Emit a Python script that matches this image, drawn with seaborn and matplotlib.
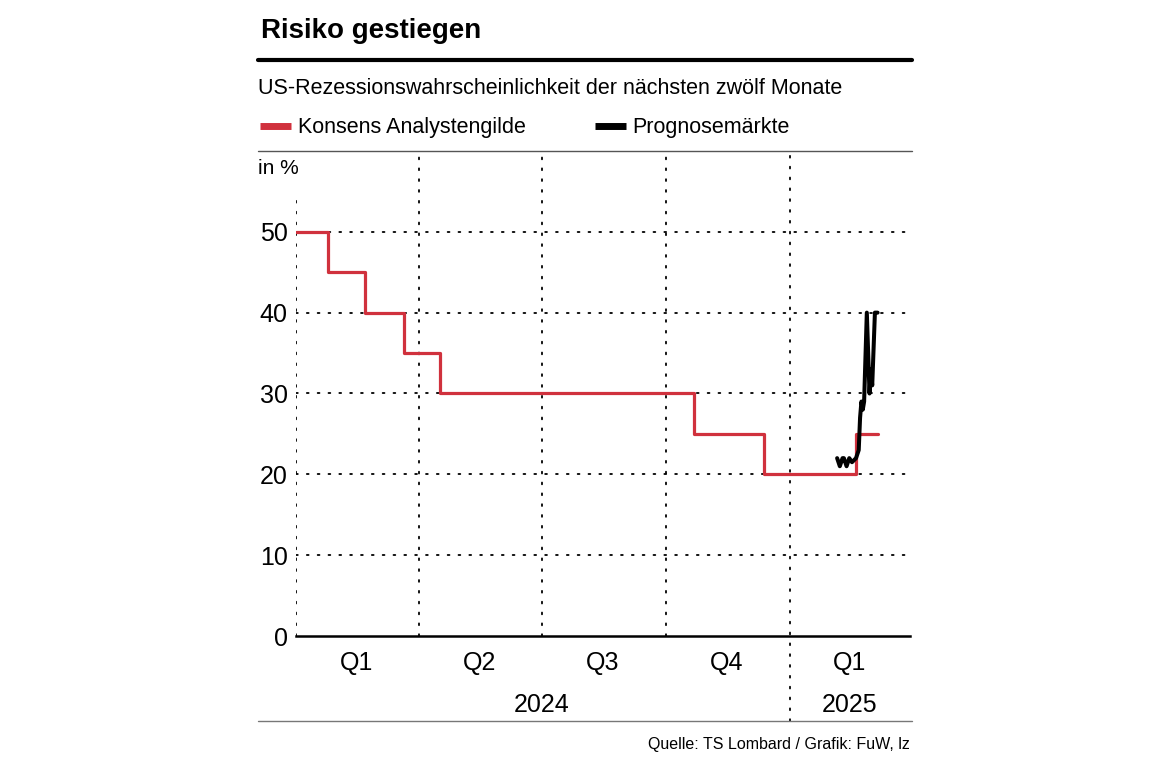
import pandas as pd
import numpy as np
import matplotlib
matplotlib.use('Agg')
import matplotlib.pyplot as plt
import matplotlib.transforms as mtransforms
from matplotlib.lines import Line2D
import seaborn as sns

# Daten
konsens_datum = ['2024-01-01', '2024-01-25', '2024-02-21', '2024-03-21', '2024-04-17',
                 '2024-10-22', '2024-12-13', '2025-02-19', '2025-03-07']
konsens_wert = [50, 45, 40, 35, 30, 25, 20, 25, 25]

markt_datum = ['2025-02-05', '2025-02-07', '2025-02-09', '2025-02-10', '2025-02-12',
               '2025-02-14', '2025-02-16', '2025-02-19', '2025-02-21', '2025-02-22',
               '2025-02-23', '2025-02-24', '2025-02-25', '2025-02-27', '2025-03-01',
               '2025-03-02', '2025-03-03', '2025-03-05', '2025-03-07']
markt_wert = [22, 21, 22, 22, 21, 22, 21.5, 22, 23, 27, 29, 28, 29, 40, 30, 33, 31, 40, 40]

quartal_grenzen = ['2024-01-01', '2024-04-01', '2024-07-01', '2024-10-01', '2025-01-01']
quartal_mitte = ['2024-02-15', '2024-05-16', '2024-08-15', '2024-11-15', '2025-02-14']
quartal_labels = ['Q1', 'Q2', 'Q3', 'Q4', 'Q1']
jahr_mitte = ['2024-07-01', '2025-02-14']
jahr_labels = ['2024', '2025']
y_ticks = [0, 10, 20, 30, 40, 50]

df_konsens = pd.DataFrame({'Datum': pd.to_datetime(konsens_datum), 'Wert': konsens_wert})
df_markt = pd.DataFrame({'Datum': pd.to_datetime(markt_datum), 'Wert': markt_wert})

sns.set_style('white')
plt.rcParams['font.family'] = ['Liberation Sans', 'DejaVu Sans']
plt.rcParams['text.color'] = 'black'
plt.rcParams['xtick.color'] = 'black'
plt.rcParams['ytick.color'] = 'black'

rot = '#d0313d'
W, H = 1170, 759
fig = plt.figure(figsize=(11.7, 7.59), dpi=100)
ax = fig.add_axes([296 / W, 1 - 636 / H, (910 - 296) / W, (636 - 155) / H])

x0 = pd.Timestamp('2024-01-01')
x1 = pd.Timestamp('2025-03-31')
ax.set_xlim(x0, x1)
ax.set_ylim(0, 59.5)

# Gitterlinien (gepunktet)
dot = dict(color='black', lw=1.3, linestyle=(0, (1, 5)), capstyle='round')
ax.hlines(y_ticks[1:], x0, pd.Timestamp('2025-03-28'), **dot, zorder=1)
grenzen = pd.to_datetime(quartal_grenzen)
ax.vlines(grenzen[0], 0, 54.5, **dot, zorder=1)
ax.vlines(grenzen[1:4], 0, 59.5, **dot, zorder=1)
ax.vlines(grenzen[4], -10.5, 59.5, **dot, zorder=1, clip_on=False)

sns.lineplot(data=df_konsens, x='Datum', y='Wert', ax=ax, color=rot, lw=2.3,
             drawstyle='steps-post', label='Konsens Analystengilde', zorder=3)
sns.lineplot(data=df_markt, x='Datum', y='Wert', ax=ax, color='black', lw=2.9,
             label='Prognosemärkte', zorder=4)

for s in ['left', 'right', 'top']:
    ax.spines[s].set_visible(False)
ax.spines['bottom'].set_color('black')
ax.spines['bottom'].set_linewidth(1.8)

ax.set_yticks(y_ticks)
ax.set_yticklabels([str(v) for v in y_ticks], fontsize=18)
ax.set_xticks(pd.to_datetime(quartal_mitte))
ax.set_xticklabels(quartal_labels, fontsize=18)
ax.tick_params(axis='both', length=0)
ax.tick_params(axis='y', pad=6)
ax.tick_params(axis='x', pad=11)
ax.set_xlabel('')
ax.set_ylabel('')
ax.get_legend().remove()

trans = mtransforms.blended_transform_factory(ax.transData, fig.transFigure)
for d, lab in zip(pd.to_datetime(jahr_mitte), jahr_labels):
    ax.text(d, 1 - 705 / H, lab, transform=trans, ha='center', va='center', fontsize=18)

# Titel und Texte
fig.text(261 / W, 1 - 31 / H, 'Risiko gestiegen', fontsize=20, fontweight='bold',
         ha='left', va='center')
fig.add_artist(Line2D([258 / W, 912 / W], [1 - 60 / H, 1 - 60 / H], color='black', lw=3))
fig.text(258 / W, 1 - 88 / H, 'US-Rezessionswahrscheinlichkeit der nächsten zwölf Monate',
         fontsize=15.5, ha='left', va='center')

handles, labels = ax.get_legend_handles_labels()
leg = fig.legend(handles, labels, loc='center left', bbox_to_anchor=(241 / W, 1 - 128 / H),
                 ncol=2, frameon=False, fontsize=15.5, handlelength=1.4, handletextpad=0.33,
                 columnspacing=3.25)
for h in leg.legend_handles:
    h.set_linewidth(5)
    h.set_solid_capstyle('butt')

fig.add_artist(Line2D([258 / W, 912 / W], [1 - 151 / H, 1 - 151 / H], color='#555555', lw=1))
fig.text(258 / W, 1 - 168 / H, 'in %', fontsize=15, ha='left', va='center')
fig.add_artist(Line2D([258 / W, 912 / W], [1 - 721 / H, 1 - 721 / H], color='#777777', lw=1))
fig.text(910 / W, 1 - 745 / H, 'Quelle: TS Lombard / Grafik: FuW, lz', fontsize=11.5,
         ha='right', va='center')

fig.savefig('out.png', dpi=100, facecolor='white')
